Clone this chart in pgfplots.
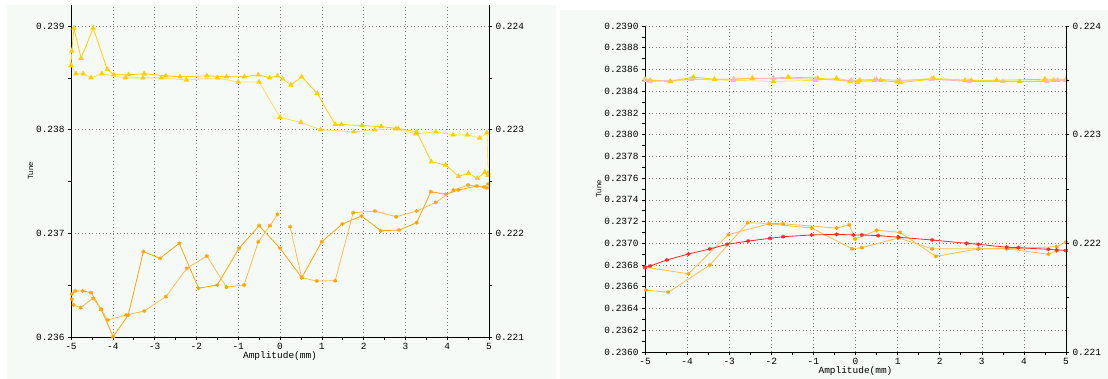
\documentclass[border=0pt]{standalone}
\usepackage{fontspec}
\setmainfont{Liberation Sans}
\setmonofont{Liberation Mono}
\usepackage{pgfplots}
\pgfplotsset{compat=1.18}
\definecolor{panel}{RGB}{245,250,247}
\definecolor{ygold}{RGB}{255,208,0}
\definecolor{ylight}{RGB}{255,224,90}
\definecolor{oran}{RGB}{255,165,0}
\definecolor{oranl}{RGB}{255,190,80}
\definecolor{redl}{RGB}{255,40,40}
\definecolor{pinkl}{RGB}{255,182,193}
\definecolor{gridc}{RGB}{130,130,130}
\begin{document}
\begin{tikzpicture}
\fill[white] (0bp,0bp) rectangle (1108bp,379bp);
\fill[panel] (7bp,0bp) rectangle (556bp,374bp);
\fill[panel] (560bp,0bp) rectangle (1108bp,369bp);
\pgfplotsset{
  every axis/.append style={scale only axis, anchor=south west,
    tick label style={font=\ttfamily\fontsize{9.5}{10}\selectfont, text=black},
    label style={font=\ttfamily\fontsize{9.5}{10}\selectfont},
    axis line style={line width=0.9bp,black},
    tick style={black, line width=0.6bp},
    major tick length=3bp, minor tick length=3bp, tick align=outside,
    major grid style={gridc, line width=0.6bp, dash pattern=on 1bp off 2.5bp},
    clip=false},
  ytri/.style={color=ygold, line width=0.8bp, mark=triangle*, mark size=2.4bp, mark options={solid, fill=ygold, draw=ygold}},
  ytri2/.style={color=ylight, line width=0.8bp, mark=triangle*, mark size=2.4bp, mark options={solid, fill=ygold, draw=ygold}},
  ptri/.style={color=pinkl, line width=0.8bp, mark=triangle*, mark size=2.4bp, mark options={solid, fill=pinkl, draw=pinkl}},
  ost/.style={color=oran, line width=0.8bp, mark=asterisk, mark size=2bp, mark options={solid, line width=1bp, draw=oran}},
  ost2/.style={color=oranl, line width=0.8bp, mark=asterisk, mark size=2bp, mark options={solid, line width=1bp, draw=oran}},
  rst/.style={color=redl, line width=0.8bp, mark=asterisk, mark size=2bp, mark options={solid, line width=1bp, draw=redl}},
}
% ---------------- LEFT CHART ----------------
\begin{axis}[at={(71bp,42bp)}, width=418bp, height=332bp,
  xmin=-5, xmax=5, ymin=0.236, ymax=0.239203,
  axis x line*=bottom, axis y line*=left,
  xtick={-5,-4,-3,-2,-1,0,1,2,3,4,5},
  xticklabels={-5,-4,-3,-2,-1,0,1,2,3,4,5},
  minor x tick num=1,
  ytick={0.236,0.237,0.238,0.239},
  yticklabels={0.236,0.237,0.238,0.239},
  minor y tick num=1,
  grid=major,
  xlabel={Amplitude(mm)}, ylabel={\rmfamily\fontsize{7.5}{8}\selectfont Tune},
  xlabel style={yshift=5bp}, ylabel style={yshift=-4bp},
]
\addplot[ytri2] coordinates {(-5,0.23862) (-4.88,0.23854) (-4.71,0.23854) (-4.52,0.23850) (-4.26,0.23854) (-3.70,0.23850) (-3.28,0.23850) (-2.84,0.23850) (-2.24,0.23848) (-1.50,0.23850) (-1.0,0.23846) (-0.50,0.23846) (0,0.23812) (0.50,0.23807) (0.97,0.23800) (1.77,0.23798) (2.27,0.23800) (2.77,0.23801) (3.25,0.23796) (3.73,0.23798) (4.14,0.23795) (4.48,0.23795) (4.78,0.23792) (4.95,0.23797) (4.98,0.23756)};
\addplot[ytri] coordinates {(-5,0.23862) (-4.98,0.23876) (-4.93,0.23898) (-4.76,0.23869) (-4.47,0.23898) (-4.13,0.23858) (-3.98,0.23853) (-3.62,0.23853) (-3.25,0.23854) (-2.73,0.23852) (-2.39,0.23851) (-1.75,0.23852) (-1.28,0.23851) (-0.85,0.23851) (-0.52,0.23853) (-0.25,0.23850) (-0.06,0.23852) (0.06,0.23849) (0.26,0.23843) (0.52,0.23851) (0.89,0.23835) (1.32,0.23805) (1.47,0.23805) (1.96,0.23804) (2.42,0.23803) (2.83,0.23801) (3.27,0.23798) (3.62,0.23769) (3.96,0.23766) (4.27,0.23755) (4.51,0.23758) (4.72,0.23753) (4.90,0.23759) (4.98,0.23758)};
\addplot[ost] coordinates {(-4.98,0.236415) (-4.90,0.236444) (-4.72,0.236444) (-4.52,0.236427) (-4.28,0.236267) (-3.99,0.236003) (-3.63,0.236212) (-3.27,0.236823) (-2.87,0.236759) (-2.41,0.236904) (-1.95,0.236470) (-1.50,0.236502) (-0.98,0.236856) (-0.50,0.237074) (0.0,0.236856) (0.52,0.236572) (1.00,0.236919) (1.49,0.237090) (1.95,0.237167) (2.41,0.237025) (2.85,0.237032) (3.27,0.237103) (3.61,0.237402) (3.97,0.237377) (4.27,0.237418) (4.71,0.237457) (4.95,0.237437)};
\addplot[ost2] coordinates {(-4.98,0.236364) (-4.94,0.236309) (-4.77,0.236283) (-4.47,0.236373) (-4.28,0.236267) (-4.12,0.236164) (-3.68,0.236212) (-3.25,0.236251) (-2.73,0.236389) (-2.23,0.236663) (-1.75,0.236781) (-1.28,0.236480) (-0.86,0.236502) (-0.52,0.236919) (-0.24,0.237074) (-0.06,0.237184)};
\addplot[ost2] coordinates {(0.24,0.237064) (0.52,0.236572) (0.88,0.236540) (1.32,0.236543) (1.75,0.237199) (2.27,0.237215) (2.78,0.237160) (3.27,0.237215) (3.73,0.237299) (4.15,0.237418) (4.50,0.237466) (4.88,0.237447) (4.98,0.237476)};
\end{axis}
\begin{axis}[at={(71bp,42bp)}, width=418bp, height=332bp,
  xmin=-5, xmax=5, ymin=0.221, ymax=0.224203,
  axis x line=none, axis y line*=right,
  ytick={0.221,0.222,0.223,0.224},
  yticklabels={0.221,0.222,0.223,0.224},
  minor y tick num=1,
]
\end{axis}
% ---------------- RIGHT CHART ----------------
\begin{axis}[at={(645bp,27bp)}, width=421bp, height=326bp,
  xmin=-5, xmax=5, ymin=0.236, ymax=0.239,
  axis x line*=bottom, axis y line*=left,
  xtick={-5,-4,-3,-2,-1,0,1,2,3,4,5},
  xticklabels={-5,-4,-3,-2,-1,0,1,2,3,4,5},
  minor x tick num=1,
  ytick={0.2360,0.2362,0.2364,0.2366,0.2368,0.2370,0.2372,0.2374,0.2376,0.2378,0.2380,0.2382,0.2384,0.2386,0.2388,0.2390},
  yticklabels={0.2360,0.2362,0.2364,0.2366,0.2368,0.2370,0.2372,0.2374,0.2376,0.2378,0.2380,0.2382,0.2384,0.2386,0.2388,0.2390},
  minor y tick num=1,
  grid=major,
  xlabel={Amplitude(mm)}, ylabel={\rmfamily\fontsize{7.5}{8}\selectfont Tune},
  xlabel style={yshift=5bp}, ylabel style={yshift=-4bp},
]
\addplot[ytri2] coordinates {(-5,0.23851) (-4.4,0.23849) (-3.9,0.23851) (-2.9,0.23850) (-1.95,0.23849) (-0.95,0.23850) (-0.45,0.23852) (0.05,0.23848) (0.45,0.23850) (1.0,0.23849) (1.85,0.23852) (2.75,0.23850) (3.9,0.23849) (4.7,0.23850) (5,0.23850)};
\addplot[ytri] coordinates {(-5,0.23850) (-4.88,0.23850) (-4.4,0.23849) (-3.85,0.23853) (-3.35,0.23851) (-2.9,0.23851) (-2.45,0.23852) (-1.95,0.23852) (-1.6,0.23853) (-0.9,0.23852) (-0.13,0.23849) (0.1,0.23850) (0.6,0.23850) (1.06,0.23848) (1.81,0.23851) (2.6,0.23850) (3.35,0.23850) (4.5,0.23851) (5,0.23851)};
\addplot[ptri] coordinates {(-5,0.23850) (-4.88,0.23849) (-3.9,0.23851) (-2.9,0.23851) (-1.95,0.23852) (-0.95,0.23851) (-0.1,0.23850) (0.5,0.23851) (1.05,0.23850) (1.8,0.23851) (2.7,0.23849) (3.5,0.23849) (4.55,0.23849) (4.8,0.23850) (5,0.23850)};
\addplot[ost2] coordinates {(-5,0.23678) (-3.97,0.23672) (-3.02,0.23708) (-2.05,0.23718) (-1.04,0.23714) (-0.08,0.23695) (0.15,0.23696) (1.02,0.23705) (1.82,0.23695) (2.92,0.23695) (3.59,0.23695) (4.78,0.23697) (5.0,0.23701)};
\addplot[ost2] coordinates {(-4.98,0.23657) (-4.45,0.23655) (-3.46,0.23680) (-2.56,0.23719) (-1.72,0.23718) (-0.45,0.23714) (-0.15,0.23717) (-0.01,0.23704) (0.5,0.23712) (1.06,0.23710) (1.91,0.23688) (2.92,0.23695) (3.59,0.23695) (4.58,0.23690) (4.78,0.23693)};
\addplot[rst] coordinates {(-5,0.236778) (-4.88,0.236791) (-4.48,0.236847) (-3.97,0.236902) (-3.46,0.236948) (-3.05,0.236991) (-2.55,0.237021) (-2.03,0.237046) (-1.72,0.237061) (-1.04,0.237077) (-0.45,0.237083) (-0.05,0.237077) (0.15,0.237077) (0.54,0.237071) (1.02,0.237056) (1.82,0.237031) (2.64,0.237000) (2.92,0.236991) (3.59,0.236964) (3.87,0.236960) (4.58,0.236945) (4.78,0.236939) (5,0.236934)};
\end{axis}
\begin{axis}[at={(645bp,27bp)}, width=421bp, height=326bp,
  xmin=-5, xmax=5, ymin=0.221, ymax=0.224,
  axis x line=none, axis y line*=right,
  ytick={0.221,0.222,0.223,0.224},
  yticklabels={0.221,0.222,0.223,0.224},
  minor y tick num=1,
]
\end{axis}
\end{tikzpicture}
\end{document}
